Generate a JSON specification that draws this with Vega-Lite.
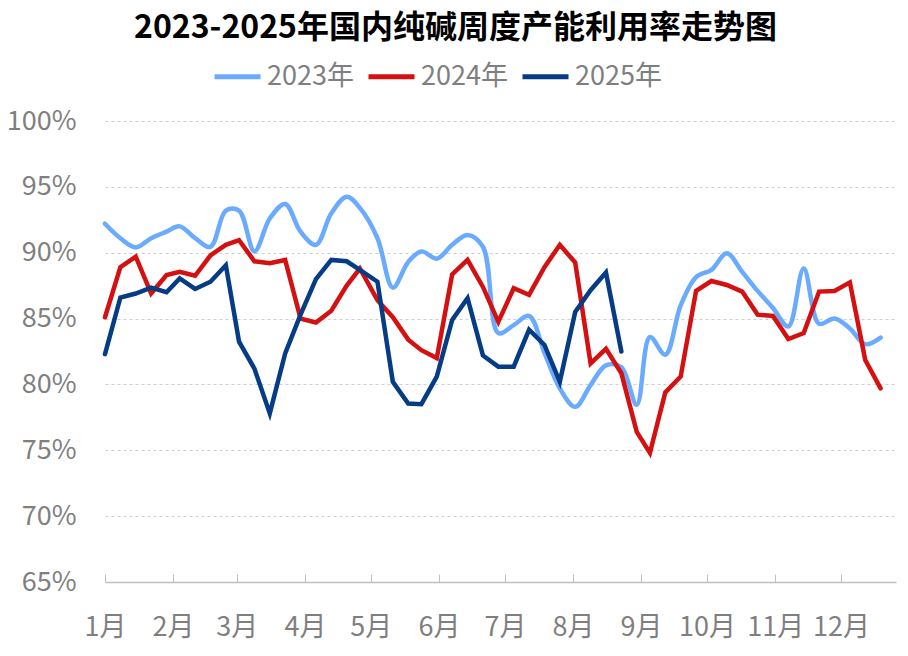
{
  "$schema": "https://vega.github.io/schema/vega-lite/v6.json",
  "autosize": "none",
  "width": 791,
  "height": 461,
  "padding": {"left": 105, "top": 121, "right": 12, "bottom": 74},
  "background": "white",
  "config": {
    "view": {"stroke": null},
    "font": "Noto Sans CJK SC",
    "legend": {
      "orient": "none",
      "legendX": 107,
      "legendY": -70,
      "direction": "horizontal",
      "symbolType": "stroke",
      "symbolSize": 2116,
      "symbolStrokeWidth": 5,
      "labelFontSize": 27,
      "labelColor": "#7f7f7f",
      "labelFont": "Noto Sans CJK SC",
      "labelOffset": 4,
      "columnPadding": 4,
      "padding": 0,
      "title": null
    }
  },
  "title": {
    "text": "2023-2025年国内纯碱周度产能利用率走势图",
    "font": "Noto Sans CJK SC",
    "fontSize": 32,
    "fontWeight": "bold",
    "color": "#000000",
    "anchor": "middle",
    "frame": "group",
    "dx": -45,
    "offset": 6
  },
  "data": {
    "values": [
      {"series": "2023年", "date": "2023-01-01", "rate": 92.2},
      {"series": "2023年", "date": "2023-01-08", "rate": 91.1},
      {"series": "2023年", "date": "2023-01-15", "rate": 90.4},
      {"series": "2023年", "date": "2023-01-22", "rate": 91.1},
      {"series": "2023年", "date": "2023-01-29", "rate": 91.6},
      {"series": "2023年", "date": "2023-02-04", "rate": 92.0},
      {"series": "2023年", "date": "2023-02-11", "rate": 91.1},
      {"series": "2023年", "date": "2023-02-18", "rate": 90.45},
      {"series": "2023年", "date": "2023-02-25", "rate": 93.2},
      {"series": "2023年", "date": "2023-03-02", "rate": 93.2},
      {"series": "2023年", "date": "2023-03-09", "rate": 90.1},
      {"series": "2023年", "date": "2023-03-16", "rate": 92.6},
      {"series": "2023年", "date": "2023-03-23", "rate": 93.7},
      {"series": "2023年", "date": "2023-03-30", "rate": 91.6},
      {"series": "2023年", "date": "2023-04-06", "rate": 90.6},
      {"series": "2023年", "date": "2023-04-13", "rate": 93.0},
      {"series": "2023年", "date": "2023-04-20", "rate": 94.25},
      {"series": "2023年", "date": "2023-04-26", "rate": 93.4},
      {"series": "2023年", "date": "2023-05-04", "rate": 91.1},
      {"series": "2023年", "date": "2023-05-11", "rate": 87.35},
      {"series": "2023年", "date": "2023-05-18", "rate": 89.3},
      {"series": "2023年", "date": "2023-05-24", "rate": 90.1},
      {"series": "2023年", "date": "2023-05-31", "rate": 89.55},
      {"series": "2023年", "date": "2023-06-07", "rate": 90.6},
      {"series": "2023年", "date": "2023-06-14", "rate": 91.35},
      {"series": "2023年", "date": "2023-06-21", "rate": 90.45},
      {"series": "2023年", "date": "2023-06-28", "rate": 83.9},
      {"series": "2023年", "date": "2023-07-05", "rate": 84.5},
      {"series": "2023年", "date": "2023-07-12", "rate": 85.2},
      {"series": "2023年", "date": "2023-07-19", "rate": 82.4},
      {"series": "2023年", "date": "2023-07-26", "rate": 79.7},
      {"series": "2023年", "date": "2023-08-02", "rate": 78.3},
      {"series": "2023年", "date": "2023-08-09", "rate": 79.95},
      {"series": "2023年", "date": "2023-08-16", "rate": 81.45},
      {"series": "2023年", "date": "2023-08-23", "rate": 81.3},
      {"series": "2023年", "date": "2023-08-30", "rate": 78.45},
      {"series": "2023年", "date": "2023-09-05", "rate": 83.6},
      {"series": "2023年", "date": "2023-09-12", "rate": 82.25},
      {"series": "2023年", "date": "2023-09-19", "rate": 86.0},
      {"series": "2023年", "date": "2023-09-26", "rate": 88.15},
      {"series": "2023年", "date": "2023-10-03", "rate": 88.7},
      {"series": "2023年", "date": "2023-10-10", "rate": 89.95},
      {"series": "2023年", "date": "2023-10-17", "rate": 88.55},
      {"series": "2023年", "date": "2023-10-24", "rate": 87.1},
      {"series": "2023年", "date": "2023-10-31", "rate": 85.8},
      {"series": "2023年", "date": "2023-11-07", "rate": 84.4},
      {"series": "2023年", "date": "2023-11-14", "rate": 88.8},
      {"series": "2023年", "date": "2023-11-21", "rate": 84.6},
      {"series": "2023年", "date": "2023-11-28", "rate": 85.0},
      {"series": "2023年", "date": "2023-12-05", "rate": 84.25},
      {"series": "2023年", "date": "2023-12-12", "rate": 83.05},
      {"series": "2023年", "date": "2023-12-19", "rate": 83.55},

      {"series": "2024年", "date": "2024-01-01", "rate": 85.1},
      {"series": "2024年", "date": "2024-01-08", "rate": 88.9},
      {"series": "2024年", "date": "2024-01-15", "rate": 89.7},
      {"series": "2024年", "date": "2024-01-22", "rate": 86.9},
      {"series": "2024年", "date": "2024-01-29", "rate": 88.3},
      {"series": "2024年", "date": "2024-02-04", "rate": 88.55},
      {"series": "2024年", "date": "2024-02-11", "rate": 88.25},
      {"series": "2024年", "date": "2024-02-18", "rate": 89.8},
      {"series": "2024年", "date": "2024-02-25", "rate": 90.6},
      {"series": "2024年", "date": "2024-03-02", "rate": 90.95},
      {"series": "2024年", "date": "2024-03-09", "rate": 89.35},
      {"series": "2024年", "date": "2024-03-16", "rate": 89.2},
      {"series": "2024年", "date": "2024-03-23", "rate": 89.45},
      {"series": "2024年", "date": "2024-03-30", "rate": 85.0},
      {"series": "2024年", "date": "2024-04-06", "rate": 84.7},
      {"series": "2024年", "date": "2024-04-13", "rate": 85.6},
      {"series": "2024年", "date": "2024-04-20", "rate": 87.5},
      {"series": "2024年", "date": "2024-04-26", "rate": 88.8},
      {"series": "2024年", "date": "2024-05-04", "rate": 86.4},
      {"series": "2024年", "date": "2024-05-11", "rate": 85.1},
      {"series": "2024年", "date": "2024-05-18", "rate": 83.4},
      {"series": "2024年", "date": "2024-05-24", "rate": 82.6},
      {"series": "2024年", "date": "2024-05-31", "rate": 82.0},
      {"series": "2024年", "date": "2024-06-07", "rate": 88.35},
      {"series": "2024年", "date": "2024-06-14", "rate": 89.45},
      {"series": "2024年", "date": "2024-06-21", "rate": 87.4},
      {"series": "2024年", "date": "2024-06-28", "rate": 84.75},
      {"series": "2024年", "date": "2024-07-05", "rate": 87.3},
      {"series": "2024年", "date": "2024-07-12", "rate": 86.8},
      {"series": "2024年", "date": "2024-07-19", "rate": 88.9},
      {"series": "2024年", "date": "2024-07-26", "rate": 90.6},
      {"series": "2024年", "date": "2024-08-02", "rate": 89.25},
      {"series": "2024年", "date": "2024-08-09", "rate": 81.6},
      {"series": "2024年", "date": "2024-08-16", "rate": 82.7},
      {"series": "2024年", "date": "2024-08-23", "rate": 80.85},
      {"series": "2024年", "date": "2024-08-30", "rate": 76.4},
      {"series": "2024年", "date": "2024-09-05", "rate": 74.8},
      {"series": "2024年", "date": "2024-09-12", "rate": 79.4},
      {"series": "2024年", "date": "2024-09-19", "rate": 80.6},
      {"series": "2024年", "date": "2024-09-26", "rate": 87.1},
      {"series": "2024年", "date": "2024-10-03", "rate": 87.85},
      {"series": "2024年", "date": "2024-10-10", "rate": 87.55},
      {"series": "2024年", "date": "2024-10-17", "rate": 87.05},
      {"series": "2024年", "date": "2024-10-24", "rate": 85.3},
      {"series": "2024年", "date": "2024-10-31", "rate": 85.2},
      {"series": "2024年", "date": "2024-11-07", "rate": 83.45},
      {"series": "2024年", "date": "2024-11-14", "rate": 83.9},
      {"series": "2024年", "date": "2024-11-21", "rate": 87.05},
      {"series": "2024年", "date": "2024-11-28", "rate": 87.1},
      {"series": "2024年", "date": "2024-12-05", "rate": 87.75},
      {"series": "2024年", "date": "2024-12-12", "rate": 81.85},
      {"series": "2024年", "date": "2024-12-19", "rate": 79.7},

      {"series": "2025年", "date": "2025-01-01", "rate": 82.3},
      {"series": "2025年", "date": "2025-01-08", "rate": 86.6},
      {"series": "2025年", "date": "2025-01-15", "rate": 86.9},
      {"series": "2025年", "date": "2025-01-22", "rate": 87.35},
      {"series": "2025年", "date": "2025-01-29", "rate": 87.0},
      {"series": "2025年", "date": "2025-02-04", "rate": 88.05},
      {"series": "2025年", "date": "2025-02-11", "rate": 87.25},
      {"series": "2025年", "date": "2025-02-18", "rate": 87.8},
      {"series": "2025年", "date": "2025-02-25", "rate": 89.05},
      {"series": "2025年", "date": "2025-03-02", "rate": 83.25},
      {"series": "2025年", "date": "2025-03-09", "rate": 81.2},
      {"series": "2025年", "date": "2025-03-16", "rate": 77.8},
      {"series": "2025年", "date": "2025-03-23", "rate": 82.35},
      {"series": "2025年", "date": "2025-03-30", "rate": 85.3},
      {"series": "2025年", "date": "2025-04-06", "rate": 88.0},
      {"series": "2025年", "date": "2025-04-13", "rate": 89.45},
      {"series": "2025年", "date": "2025-04-20", "rate": 89.35},
      {"series": "2025年", "date": "2025-04-26", "rate": 88.7},
      {"series": "2025年", "date": "2025-05-04", "rate": 87.8},
      {"series": "2025年", "date": "2025-05-11", "rate": 80.2},
      {"series": "2025年", "date": "2025-05-18", "rate": 78.55},
      {"series": "2025年", "date": "2025-05-24", "rate": 78.5},
      {"series": "2025年", "date": "2025-05-31", "rate": 80.6},
      {"series": "2025年", "date": "2025-06-07", "rate": 84.9},
      {"series": "2025年", "date": "2025-06-14", "rate": 86.55},
      {"series": "2025年", "date": "2025-06-21", "rate": 82.2},
      {"series": "2025年", "date": "2025-06-28", "rate": 81.35},
      {"series": "2025年", "date": "2025-07-05", "rate": 81.35},
      {"series": "2025年", "date": "2025-07-12", "rate": 84.15},
      {"series": "2025年", "date": "2025-07-19", "rate": 83.0},
      {"series": "2025年", "date": "2025-07-26", "rate": 80.2},
      {"series": "2025年", "date": "2025-08-02", "rate": 85.5},
      {"series": "2025年", "date": "2025-08-09", "rate": 87.15},
      {"series": "2025年", "date": "2025-08-16", "rate": 88.5},
      {"series": "2025年", "date": "2025-08-23", "rate": 82.5}
    ]
  },
  "encoding": {
    "x": {
      "field": "date",
      "type": "temporal",
      "timeUnit": "utcmonthdate",
      "scale": {
        "type": "utc",
        "domain": [
          {"year": 2012, "month": 1, "date": 1, "utc": true},
          {"year": 2012, "month": 12, "date": 26, "utc": true}
        ]
      },
      "axis": {
        "title": null,
        "values": [
          {"year": 2012, "month": 1, "date": 1, "utc": true},
          {"year": 2012, "month": 2, "date": 1, "utc": true},
          {"year": 2012, "month": 3, "date": 1, "utc": true},
          {"year": 2012, "month": 4, "date": 1, "utc": true},
          {"year": 2012, "month": 5, "date": 1, "utc": true},
          {"year": 2012, "month": 6, "date": 1, "utc": true},
          {"year": 2012, "month": 7, "date": 1, "utc": true},
          {"year": 2012, "month": 8, "date": 1, "utc": true},
          {"year": 2012, "month": 9, "date": 1, "utc": true},
          {"year": 2012, "month": 10, "date": 1, "utc": true},
          {"year": 2012, "month": 11, "date": 1, "utc": true},
          {"year": 2012, "month": 12, "date": 1, "utc": true}
        ],
        "labelExpr": "(utcmonth(datum.value) + 1) + '月'",
        "labelFontSize": 27,
        "labelColor": "#7f7f7f",
        "labelFont": "Noto Sans CJK SC",
        "labelPadding": 40,
        "labelFlush": false,
        "labelOverlap": false,
        "grid": false,
        "domainColor": "#bfbfbf",
        "domainWidth": 1.5,
        "tickColor": "#bfbfbf",
        "tickWidth": 1,
        "tickSize": -8
      }
    },
    "y": {
      "field": "rate",
      "type": "quantitative",
      "scale": {"domain": [65, 100], "nice": false, "zero": false},
      "axis": {
        "title": null,
        "values": [65, 70, 75, 80, 85, 90, 95, 100],
        "labelExpr": "datum.value + '%'",
        "labelFontSize": 27,
        "labelColor": "#7f7f7f",
        "labelFont": "Noto Sans CJK SC",
        "labelPadding": 29,
        "domain": false,
        "ticks": false,
        "grid": true,
        "gridColor": "#cfcfcf",
        "gridDash": [3, 3],
        "gridWidth": 1
      }
    },
    "color": {
      "field": "series",
      "type": "nominal",
      "scale": {
        "domain": ["2023年", "2024年", "2025年"],
        "range": ["#6aabff", "#d41010", "#053c85"]
      },
      "legend": {}
    }
  },
  "layer": [
    {
      "transform": [{"filter": "datum.series === '2023年'"}],
      "mark": {"type": "line", "interpolate": "catmull-rom", "strokeWidth": 4.5, "strokeCap": "round"}
    },
    {
      "transform": [{"filter": "datum.series !== '2023年'"}],
      "mark": {"type": "line", "strokeWidth": 4.5, "strokeCap": "round"}
    }
  ]
}
